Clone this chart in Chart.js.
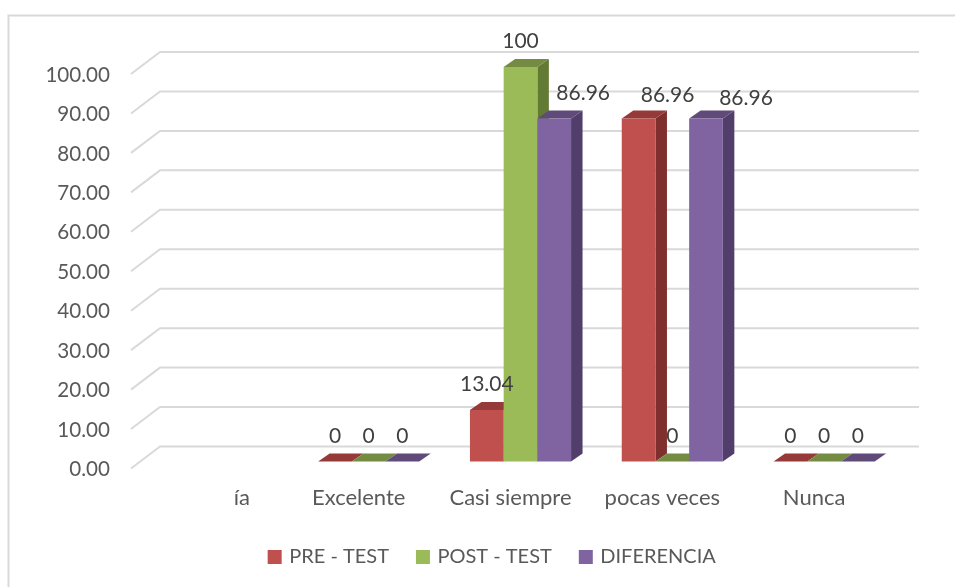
<!DOCTYPE html>
<html>
<head>
<meta charset="utf-8">
<style>html,body{margin:0;padding:0;background:#fff}canvas{display:block}</style>
<script src="https://cdn.jsdelivr.net/npm/chart.js@4"></script>
</head>
<body>
<canvas id="c" width="955" height="587"></canvas>
<script>
const categories = ["ía", "Excelente", "Casi siempre", "pocas veces", "Nunca"];
const preTest = [null, 0, 13.04, 86.96, 0];
const postTest = [null, 0, 100, 0, 0];
const diferencia = [null, 0, 86.96, 86.96, 0];
const seriesNames = ["PRE - TEST", "POST - TEST", "DIFERENCIA"];
const valueTicks = [0, 10, 20, 30, 40, 50, 60, 70, 80, 90, 100];

const FONT = "Lato, Carlito, 'Open Sans', sans-serif";
const front = ["#C0504D", "#9BBB59", "#8064A2"];
const topFace = ["#953A38", "#748C42", "#5F4A79"];
const sideFace = ["#7F2F2D", "#637A35", "#523E6B"];
const DEPTH = {x: 11.5, y: 8};
const WALL_BACK = {x: 19, y: -15};
const WALL_FRONT = {x: -10, y: 7};
// label placement relative to the bar's top centre: [series][category] = [dx, dy]
const labelNudge = {"2,2": [29, 0], "0,3": [29, 2], "2,3": [40, 5]};

function poly(ctx, pts, fill) {
  ctx.beginPath();
  pts.forEach((p, i) => i ? ctx.lineTo(p[0], p[1]) : ctx.moveTo(p[0], p[1]));
  ctx.closePath();
  ctx.fillStyle = fill;
  ctx.fill();
}

const depthPlugin = {
  id: "depth",
  afterLayout(chart) {
    // the first category's label sits to the right of its slot
    const item = chart.scales.x.getLabelItems()[0];
    if (item) item.options.translation[0] += 35;
    // value labels may use the whole left margin
    chart.scales.y.left = 0;
  },
  beforeDraw(chart) {
    const ctx = chart.ctx, y = chart.scales.y, a = chart.chartArea;
    ctx.save();
    ctx.strokeStyle = "#D9D9D9";
    ctx.lineWidth = 2;
    ctx.beginPath();
    ctx.moveTo(8.5, 587); ctx.lineTo(8.5, 15.5); ctx.lineTo(955, 15.5);
    ctx.stroke();
    valueTicks.forEach(v => {
      const py = y.getPixelForValue(v);
      ctx.beginPath();
      ctx.moveTo(a.left + WALL_FRONT.x, py + WALL_FRONT.y);
      ctx.lineTo(a.left + WALL_BACK.x, py + WALL_BACK.y);
      ctx.lineTo(a.right + WALL_BACK.x, py + WALL_BACK.y);
      ctx.stroke();
    });
    ctx.restore();
  },
  beforeDatasetDraw() { return false; },
  afterDatasetsDraw(chart) {
    const ctx = chart.ctx;
    chart.data.datasets.forEach((ds, s) => {
      chart.getDatasetMeta(s).data.forEach((bar, i) => {
        if (ds.data[i] == null) return;
        const p = bar.getProps(["x", "y", "base", "width"], true);
        const l = p.x - p.width / 2, r = p.x + p.width / 2;
        poly(ctx, [[r, p.base], [r + DEPTH.x, p.base - DEPTH.y], [r + DEPTH.x, p.y - DEPTH.y], [r, p.y]], sideFace[s]);
        poly(ctx, [[l, p.y], [l + DEPTH.x, p.y - DEPTH.y], [r + DEPTH.x, p.y - DEPTH.y], [r, p.y]], topFace[s]);
        bar.draw(ctx);
      });
    });
    ctx.save();
    ctx.font = "21px " + FONT;
    ctx.fillStyle = "#404040";
    ctx.textAlign = "center";
    ctx.textBaseline = "middle";
    chart.data.datasets.forEach((ds, s) => {
      chart.getDatasetMeta(s).data.forEach((bar, i) => {
        if (ds.data[i] == null) return;
        const n = labelNudge[s + "," + i] || [0, 0];
        ctx.fillText(String(ds.data[i]), bar.x + n[0], bar.y - 25.5 + n[1]);
      });
    });
    ctx.restore();
  }
};

new Chart(document.getElementById("c"), {
  type: "bar",
  data: {
    labels: categories,
    datasets: [
      {label: seriesNames[0], data: preTest, backgroundColor: front[0]},
      {label: seriesNames[1], data: postTest, backgroundColor: front[1]},
      {label: seriesNames[2], data: diferencia, backgroundColor: front[2]}
    ]
  },
  plugins: [depthPlugin],
  options: {
    responsive: false,
    animation: false,
    events: [],
    layout: {padding: {left: 86, right: 55, top: 67, bottom: 10}},
    datasets: {bar: {categoryPercentage: 0.666, barPercentage: 1}},
    plugins: {
      title: {display: false},
      tooltip: {enabled: false},
      legend: {
        position: "bottom",
        labels: {
          boxWidth: 9, boxHeight: 9, padding: 29.5,
          color: "#595959",
          font: {family: FONT, size: 20},
          generateLabels: () => seriesNames.map((t, i) => ({
            text: t, fillStyle: front[i], strokeStyle: front[i], lineWidth: 5, datasetIndex: i, fontColor: "#595959"
          }))
        }
      }
    },
    scales: {
      x: {
        grid: {display: false},
        border: {display: false},
        afterFit(s) { s.height = 56; },
        ticks: {color: "#595959", font: {family: FONT, size: 22}, padding: 15, labelOffset: -10, maxRotation: 0, autoSkip: false}
      },
      y: {
        min: 0, max: 100,
        grid: {display: false, drawTicks: false},
        border: {display: false},
        afterFit(s) { s.width = 55; },
        afterBuildTicks(s) { s.ticks = valueTicks.map(v => ({value: v})); },
        ticks: {
          color: "#595959", font: {family: FONT, size: 20.6}, padding: 31, labelOffset: 8,
          callback: v => Number(v).toFixed(2)
        }
      }
    }
  }
});
</script>
</body>
</html>
